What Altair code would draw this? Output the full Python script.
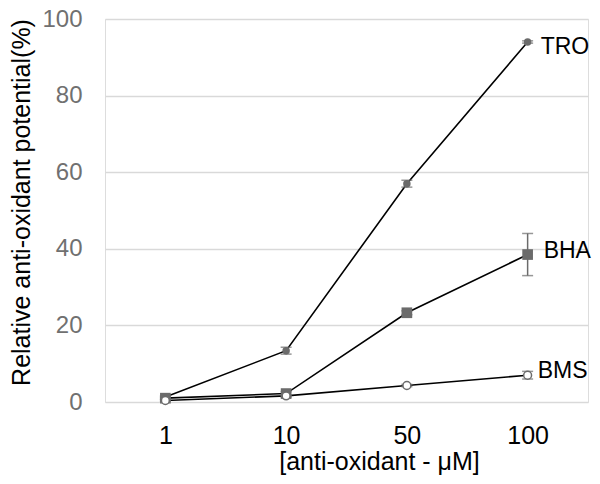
import altair as alt
import pandas as pd

conc = ["1", "10", "50", "100"]
tro = [1.3, 13.4, 57.0, 94.0]
tro_err = [0.3, 0.9, 0.9, 0.3]
bha = [1.0, 2.2, 23.3, 38.5]
bha_err = [0.3, 0.5, 0.5, 5.5]
bms = [0.4, 1.6, 4.3, 7.0]
bms_err = [0.2, 0.3, 0.3, 1.0]
names = ["TRO", "BHA", "BMS"]

rows = []
for name, vals, errs in zip(names, [tro, bha, bms], [tro_err, bha_err, bms_err]):
    for c, v, e in zip(conc, vals, errs):
        rows.append({"series": name, "conc": c, "value": v, "lo": v - e, "hi": v + e})
df = pd.DataFrame(rows)

FONT = "Liberation Sans"
GRAY = "#6b6b6b"

x = alt.X("conc:N", sort=conc, scale=alt.Scale(type="point", padding=0.5),
          axis=alt.Axis(title="[anti-oxidant - \u03bcM]", labelAngle=0, labelFontSize=25,
                        labelColor="black", labelPadding=21, ticks=False, domain=False,
                        titleFontSize=25, titleFontWeight="normal", titleColor="black",
                        titleX=274, titleY=67, titleBaseline="alphabetic", grid=False))
y = alt.Y("value:Q", scale=alt.Scale(domain=[0, 100]),
          axis=alt.Axis(title="Relative anti-oxidant potential(%)", values=[0, 20, 40, 60, 80, 100],
                        labelFontSize=24, labelColor="#707070", labelPadding=23, ticks=False,
                        domain=False, titleFontSize=25, titleFontWeight="normal",
                        titleColor="black", titleX=-76, titleY=183,
                        titleBaseline="alphabetic", gridColor="#d9d9d9", gridWidth=1.5))

base = alt.Chart(df)

lines = base.mark_line(color="black", strokeWidth=1.6).encode(x=x, y=y, detail="series:N")

err = base.mark_rule(color=GRAY, strokeWidth=1.5).encode(x=x, y=alt.Y("lo:Q"), y2="hi:Q")
cap_lo = base.mark_tick(color=GRAY, thickness=1.5, size=11).encode(x=x, y=alt.Y("lo:Q"))
cap_hi = base.mark_tick(color=GRAY, thickness=1.5, size=11).encode(x=x, y=alt.Y("hi:Q"))

tro_pts = base.transform_filter(alt.datum.series == "TRO").mark_point(
    shape="circle", filled=True, color=GRAY, size=56, opacity=1).encode(x=x, y=y)
bha_pts = base.transform_filter(alt.datum.series == "BHA").mark_point(
    shape="square", filled=True, color=GRAY, size=114, opacity=1).encode(x=x, y=y)
bms_pts = base.transform_filter(alt.datum.series == "BMS").mark_point(
    shape="circle", filled=True, fill="white", stroke=GRAY, strokeWidth=1.5, size=62,
    opacity=1).encode(x=x, y=y)

def label(name, dx, dy):
    return base.transform_filter(
        (alt.datum.series == name) & (alt.datum.conc == "100")
    ).mark_text(align="left", baseline="middle", dx=dx, dy=dy, fontSize=23, font=FONT,
                color="black").encode(x=x, y=y, text="series:N")

chart = alt.layer(
    lines, err, cap_lo, cap_hi, tro_pts, bha_pts, bms_pts,
    label("TRO", 13, 5), label("BHA", 16, -4), label("BMS", 10, -4),
).properties(
    width=483, height=383,
    autosize=alt.AutoSizeParams(type="none"),
    padding={"left": 97, "top": 11, "right": 4, "bottom": 74},
).configure_view(
    stroke="#d0d0d0", strokeWidth=1.5
).configure(font=FONT).configure_axis(labelFont=FONT, titleFont=FONT)

chart.save("out.html", embed_options={"renderer": "svg", "actions": False})
